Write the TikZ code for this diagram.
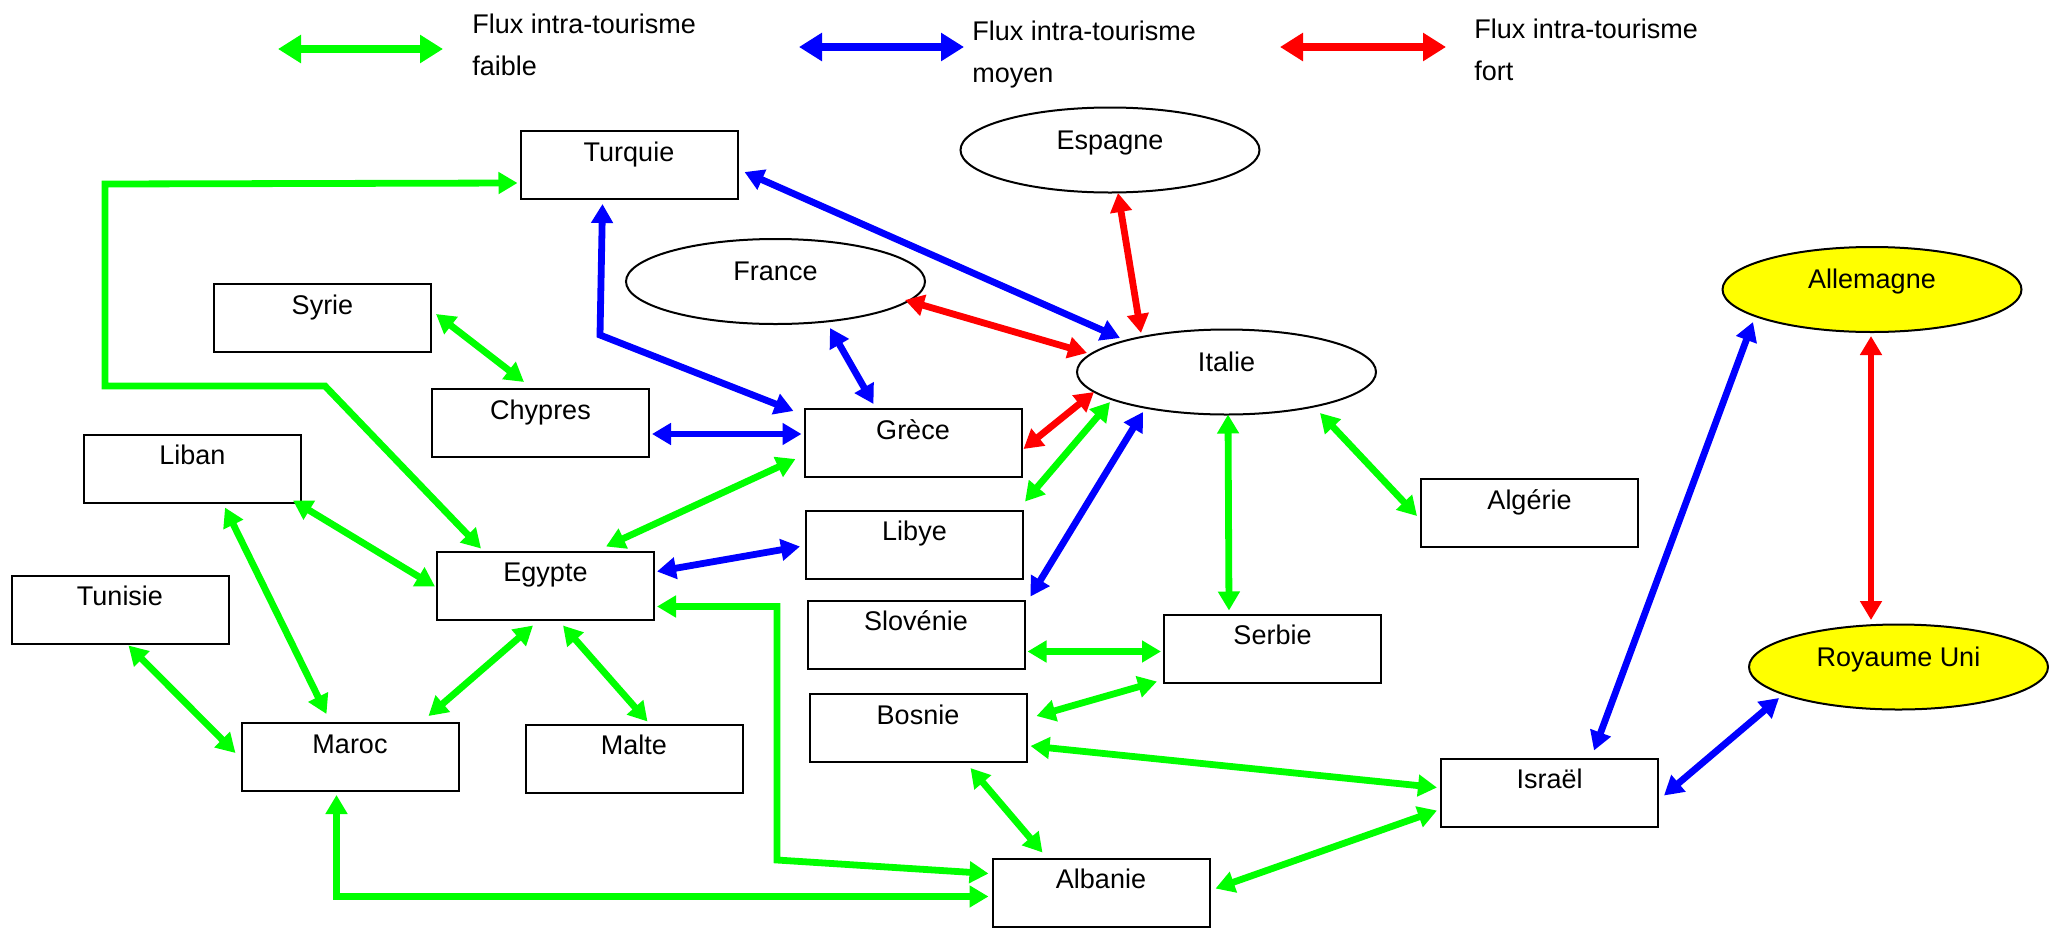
\documentclass[tikz,border=0pt]{standalone}
\usepackage{fontspec}
\setmainfont{Liberation Sans}
\usetikzlibrary{arrows.meta,shapes.geometric}
\definecolor{fgreen}{RGB}{0,255,0}
\definecolor{fblue}{RGB}{0,0,255}
\definecolor{fred}{RGB}{255,0,0}
\definecolor{fyellow}{RGB}{255,255,0}
\begin{document}
\begin{tikzpicture}[x=0.5pt,y=-0.5pt,
  lbl/.style={font=\fontsize{13.5pt}{15pt}\selectfont},
  box/.style={lbl,draw,line width=1pt,rectangle,fill=white,inner sep=0pt,minimum width=108.5pt,minimum height=34pt,text height=15pt,text depth=19pt},
  oval/.style={lbl,draw,line width=1pt,ellipse,fill=white,inner sep=0pt,minimum width=149.5pt,minimum height=42.5pt,text height=10pt,text depth=11pt},
  flux/.style={line width=3.4pt,{Triangle[length=9.5pt,width=10.5pt]}-{Triangle[length=9.5pt,width=10.5pt]}},
  faible/.style={flux,draw=fgreen},
  moyen/.style={flux,draw=fblue},
  fort/.style={flux,draw=fred},
  legarrow/.style={line width=4.2pt,{Triangle[length=11.5pt,width=13.5pt]}-{Triangle[length=11.5pt,width=13.5pt]}},
  legtext/.style={lbl,anchor=base west,inner sep=0pt}
]
\fill[white] (0,0) rectangle (2056,927);
\useasboundingbox (0,0) rectangle (2056,927);

% legend
\coordinate (lg1) at (278,49); \coordinate (lg2) at (443,49);
\coordinate (lb1) at (799,47); \coordinate (lb2) at (964,47);
\coordinate (lr1) at (1280,47); \coordinate (lr2) at (1446,47);
\draw[legarrow,draw=fgreen] (lg1) -- (lg2);
\draw[legarrow,draw=fblue] (lb1) -- (lb2);
\draw[legarrow,draw=fred] (lr1) -- (lr2);
\node[legtext] (tg1) at (472,33) {Flux intra-tourisme};
\node[legtext] (tg2) at (472,75) {faible};
\node[legtext] (tb1) at (972,40) {Flux intra-tourisme};
\node[legtext] (tb2) at (972,82) {moyen};
\node[legtext] (tr1) at (1474,38) {Flux intra-tourisme};
\node[legtext] (tr2) at (1474,80) {fort};

% nodes
\node[box] (turq) at (629,165) {Turquie};
\node[box] (syr) at (322.5,318) {Syrie};
\node[box] (chy) at (540.5,423) {Chypres};
\node[box] (gre) at (913,443) {Grèce};
\node[box] (lib) at (192.5,468.5) {Liban};
\node[box] (egy) at (545.5,585.5) {Egypte};
\node[box] (liby) at (914.5,544.5) {Libye};
\node[box] (slo) at (916,634.5) {Slovénie};
\node[box] (bos) at (918,728) {Bosnie};
\node[box] (tun) at (120,609.5) {Tunisie};
\node[box] (mar) at (350,757) {Maroc};
\node[box] (mal) at (634,758.5) {Malte};
\node[box] (alb) at (1101,892.5) {Albanie};
\node[box] (ser) at (1272.5,648.5) {Serbie};
\node[box] (alg) at (1529.5,513) {Algérie};
\node[box] (isr) at (1549.5,792.5) {Israël};
\node[oval] (esp) at (1110,150) {Espagne};
\node[oval] (fra) at (775.5,281.5) {France};
\node[oval] (ita) at (1226.5,372) {Italie};
\node[oval,fill=fyellow] (all) at (1872,289.5) {Allemagne};
\node[oval,fill=fyellow] (ru) at (1898.5,667) {Royaume Uni};

% bend points
\coordinate (k1) at (325,386);
\coordinate (k2) at (105,386);
\coordinate (k3) at (105,184);
\coordinate (k4) at (777,860);
\coordinate (k5) at (600,335);

% faible (green)
\draw[faible] ([shift={(45,-2)}]egy.north west) -- (k1) -- (k2) -- (k3) -- ([shift={(-2,53)}]turq.north west);
\draw[faible] ([shift={(4,31)}]syr.north east) -- ([shift={(93,-6)}]chy.north west);
\draw[faible] ([shift={(-8,51)}]gre.north west) -- ([shift={(170,-4)}]egy.north west);
\draw[faible] ([shift={(-9,-3)}]lib.south east) -- ([shift={(-1,36)}]egy.north west);
\draw[faible] ([shift={(142,4)}]lib.south west) -- ([shift={(86,-8)}]mar.north west);
\draw[faible] ([shift={(118,1)}]tun.south west) -- ([shift={(-5,31)}]mar.north west);
\draw[faible] ([shift={(97,5)}]egy.south west) -- ([shift={(188,-6)}]mar.north west);
\draw[faible] ([shift={(127,5)}]egy.south west) -- ([shift={(123,-2)}]mal.north west);
\draw[faible] ([shift={(2,56)}]egy.north east) -| (k4) -- ([shift={(-3,16)}]alb.north west);
\draw[faible] ([shift={(96,3)}]mar.south west) |- ([shift={(-3,39)}]alb.north west);
\draw[faible] ([shift={(-116.5,30)}]ita.center) -- ([shift={(1,-8)}]liby.north east);
\draw[faible] ([shift={(1.5,-1)}]ita.south) -- ([shift={(66,-3)}]ser.north west);
\draw[faible] ([shift={(93.5,41)}]ita.center) -- ([shift={(-3,38)}]alg.north west);
\draw[faible] ([shift={(2,52)}]slo.north east) -- ([shift={(-2,38)}]ser.north west);
\draw[faible] ([shift={(9,23)}]bos.north east) -- ([shift={(-6,-2)}]ser.south west);
\draw[faible] ([shift={(3,53)}]bos.north east) -- ([shift={(-3,30)}]isr.north west);
\draw[faible] ([shift={(162,5)}]bos.south west) -- ([shift={(51,-5)}]alb.north west);
\draw[faible] ([shift={(5,31)}]alb.north east) -- ([shift={(-3,53)}]isr.north west);

% moyen (blue)
\draw[moyen] ([shift={(83,4)}]turq.south west) -- (k5) -- ([shift={(-10,3)}]gre.north west);
\draw[moyen] ([shift={(6,42)}]turq.north east) -- ([shift={(-106.5,-34)}]ita.center);
\draw[moyen] ([shift={(54.5,46.5)}]fra.center) -- ([shift={(70,-4)}]gre.north west);
\draw[moyen] ([shift={(2,46)}]chy.north east) -- ([shift={(-2,26)}]gre.north west);
\draw[moyen] ([shift={(2,21)}]egy.north east) -- ([shift={(-5,37)}]liby.north west);
\draw[moyen] ([shift={(-83.5,40)}]ita.center) -- ([shift={(5,-3)}]slo.north east);
\draw[moyen] ([shift={(-119,32.5)}]all.center) -- ([shift={(154,-7)}]isr.north west);
\draw[moyen] ([shift={(5,38)}]isr.north east) -- ([shift={(-119.5,31)}]ru.center);

% fort (red)
\draw[fort] ([shift={(129.5,18.5)}]fra.center) -- ([shift={(-139.5,-19)}]ita.center);
\draw[fort] ([shift={(8,43)}]esp.center) -- ([shift={(-85.5,-39)}]ita.center);
\draw[fort] ([shift={(-132.5,20)}]ita.center) -- ([shift={(1,41)}]gre.north east);
\draw[fort] ([shift={(-1,46.5)}]all.center) -- ([shift={(-27.5,-47)}]ru.center);
\end{tikzpicture}
\end{document}
